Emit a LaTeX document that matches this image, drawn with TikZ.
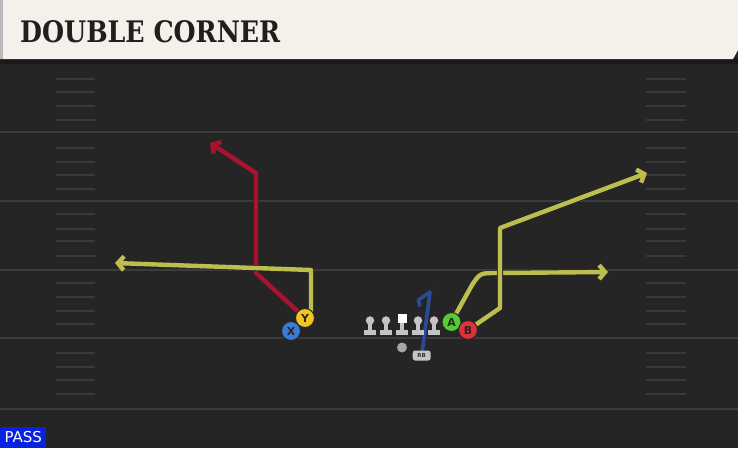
\documentclass[tikz,border=0pt]{standalone}
\usepackage{fontspec}
\setmainfont{DejaVu Sans}
\newfontfamily\titlefont{DejaVu Serif}
\usetikzlibrary{arrows.meta}
\definecolor{field}{HTML}{252525}
\definecolor{cream}{HTML}{F4F1EA}
\definecolor{yardc}{HTML}{3C3C3C}
\definecolor{hashc}{HTML}{3A3A3A}
\definecolor{ryellow}{HTML}{BDBE4E}
\definecolor{rred}{HTML}{A8132F}
\definecolor{rblue}{HTML}{2B4A9A}
\definecolor{pblue}{HTML}{3A7BD5}
\definecolor{pyellow}{HTML}{F2C521}
\definecolor{pgreen}{HTML}{55CC33}
\definecolor{pred}{HTML}{E0303A}
\definecolor{passblue}{HTML}{0A22E0}
\definecolor{olc}{HTML}{C4C4C4}
\pgfdeclarelayer{fieldlayer}
\pgfdeclarelayer{routelayer}
\pgfsetlayers{fieldlayer,routelayer,main}
\begin{document}
\begin{tikzpicture}[x=1pt,y=-1pt,
  yard/.style={draw=yardc,line width=1.8pt},
  hash/.style={draw=hashc,line width=1.6pt},
  route/.style={line width=4.4pt,line join=round,
    preaction={draw=black!85,line width=6pt}},
  tipr/.style={-{Straight Barb[length=6pt,width=14pt]}},
  player/.style={circle,draw=black!85,line width=1pt,minimum size=19pt,inner sep=0pt,
    font=\bfseries\fontsize{11}{11}\selectfont,text=black!85},
  olbase/.style={fill=olc}
]
\useasboundingbox (0,0) rectangle (738,448);
\begin{pgfonlayer}{fieldlayer}
\fill[field] (0,0) rectangle (738,448);
\fill[black!90] (0,58) rectangle (738,64);
\fill[cream] (0,0) -- (738,0) -- (738,50) -- (733,59) -- (0,59) -- cycle;
\fill[gray!55] (0,0) rectangle (3,59);
\foreach \y in {132,201,270,338,409} \draw[yard] (0,\y) -- (738,\y);
\foreach \y in {79,92,106,120,148,162,175,189,214,229,241,256,283,297,311,324,353,367,380,394}
  {\draw[hash] (56,\y) -- (95,\y); \draw[hash] (646,\y) -- (686,\y);}
\end{pgfonlayer}
\node[anchor=south west,inner sep=0pt,text=black!88] (title) at (20,43)
  {\resizebox{260pt}{22pt}{\titlefont\bfseries DOUBLE CORNER}};
% offensive line
\foreach \x/\n in {370/ol1,386/ol2,418/ol4,434/ol5}{
  \fill[olbase] (\x-6,330) rectangle (\x+6,335);
  \fill[olbase] (\x-2,322) rectangle (\x+2,331);
  \node[circle,fill=olc,inner sep=0pt,minimum size=8.5pt] (\n) at (\x,320.5) {};
}
\fill[olbase] (396,330) rectangle (408,335);
\fill[olbase] (400,321) rectangle (404,331);
\node[rectangle,fill=white,inner sep=0pt,minimum size=9pt] (ol3) at (402,318) {};
\node[circle,fill=gray!70,inner sep=0pt,minimum size=10pt] (qb) at (402,347.5) {};
\node[rectangle,rounded corners=2.5pt,fill=olc,inner sep=0pt,minimum width=18pt,minimum height=10pt,
  font=\bfseries\fontsize{5.5}{5.5}\selectfont,text=black!80] (RB) at (421.7,355.5) {RB};
% players
\node[player,fill=pblue] (X) at (291,331) {X};
\node[player,fill=pyellow] (Y) at (305,318) {Y};
\node[player,fill=pgreen] (A) at (451.5,322) {A};
\node[player,fill=pred] (B) at (468,330) {B};
% routes
\begin{pgfonlayer}{routelayer}
\coordinate (r1) at (256,273); \coordinate (r2) at (256,173); \coordinate (r3) at (210,143);
\draw[route,draw=rred,tipr] (Y.center) -- (r1) -- (r2) -- (r3);
\coordinate (y0) at (311,318); \coordinate (y1) at (311,270); \coordinate (y2) at (115,263);
\draw[route,draw=ryellow,tipr] (y0) -- (y1) -- (y2);
\coordinate (a1) at (472,285); \coordinate (a2) at (497,273); \coordinate (a3) at (608,272);
\draw[route,draw=ryellow,tipr] (A.center) -- (a1) .. controls (480,273) .. (a2) -- (a3);
\coordinate (b1) at (500,308); \coordinate (b2) at (500,228); \coordinate (b3) at (647,173);
\draw[route,draw=ryellow,tipr] (B.center) -- (b1) -- (b2) -- (b3);
\coordinate (k1) at (430,292); \coordinate (k2) at (418.5,300); \coordinate (k3) at (420,306.5);
\draw[route,draw=rblue,line width=3.6pt] (RB.center) -- (k1) -- (k2) -- (k3);
\end{pgfonlayer}
\node[anchor=south west,fill=passblue,text=white,inner sep=0pt,minimum width=46pt,minimum height=21pt,
  font=\fontsize{15}{15}\selectfont] (pass) at (0,448) {PASS};
\end{tikzpicture}
\end{document}
